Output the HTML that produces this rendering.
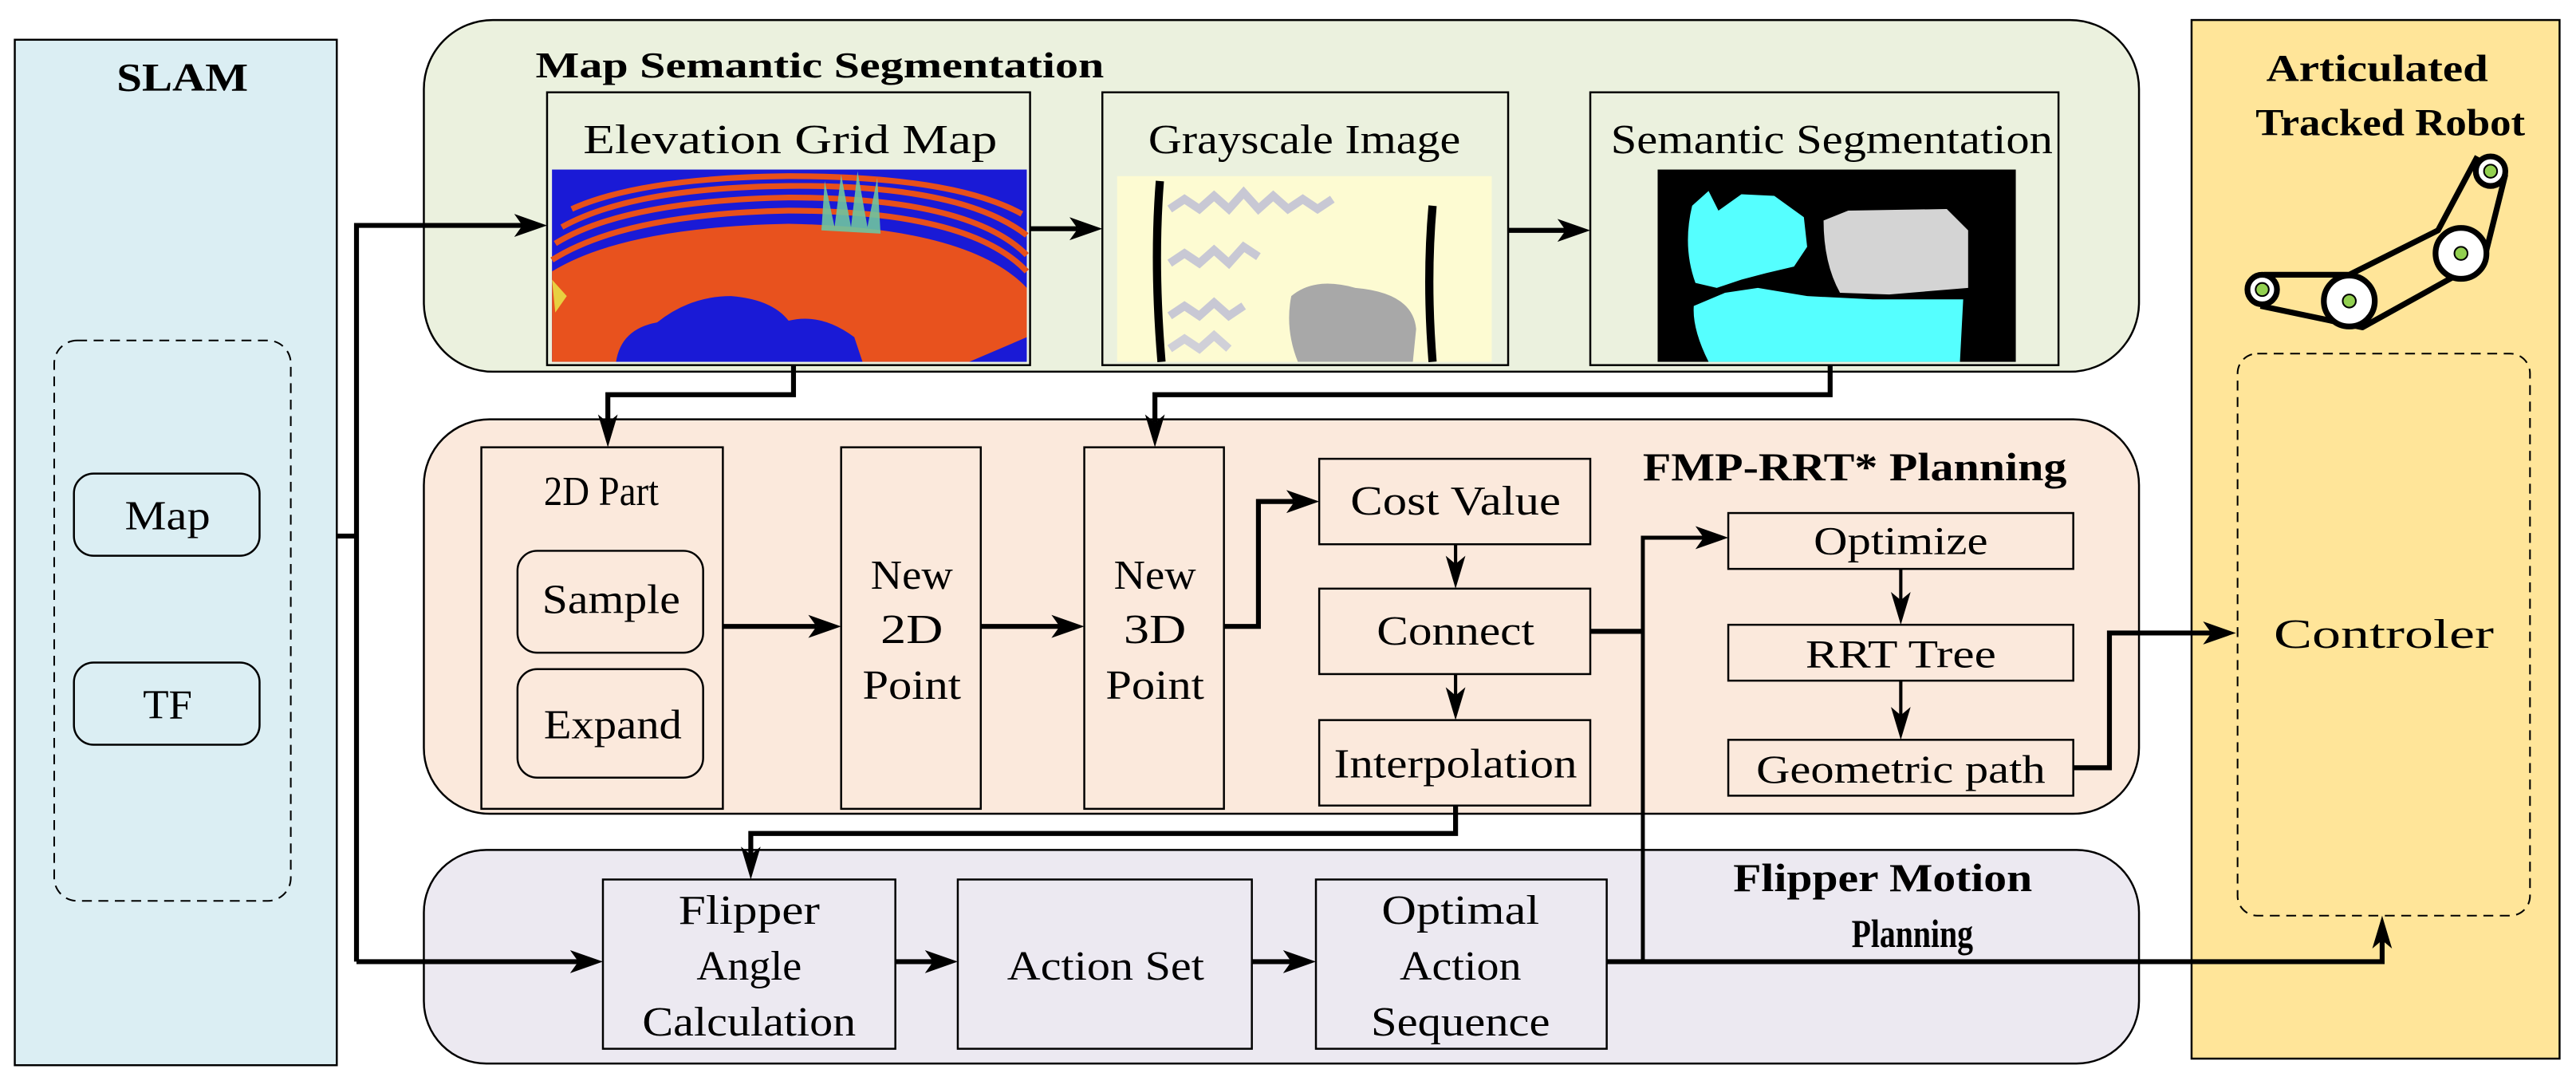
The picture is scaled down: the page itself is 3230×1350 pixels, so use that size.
<!DOCTYPE html>
<html><head><meta charset="utf-8"><style>
html,body{margin:0;padding:0;background:#fff;}
svg{display:block;}
text{font-family:"Liberation Serif","Times New Roman","Nimbus Roman","DejaVu Serif",serif;fill:#000;}
.b{font-weight:bold;}
</style></head><body>
<svg width="3230" height="1350" viewBox="0 0 1568 655" xmlns="http://www.w3.org/2000/svg">

<!-- SLAM panel -->
<rect x="9" y="24" width="196" height="624" fill="#dbeef3" stroke="#000" stroke-width="1.2"/>
<text class="b" x="111" y="55" font-size="24" text-anchor="middle" textLength="80" lengthAdjust="spacingAndGlyphs">SLAM</text>
<rect x="33" y="207" width="144" height="341" rx="14" fill="none" stroke="#000" stroke-width="1" stroke-dasharray="6,4"/>
<rect x="45" y="288" width="113" height="50" rx="12" fill="#dbeef3" stroke="#000" stroke-width="1.2"/>
<text x="102" y="322" font-size="25" text-anchor="middle" textLength="52" lengthAdjust="spacingAndGlyphs">Map</text>
<rect x="45" y="403" width="113" height="50" rx="12" fill="#dbeef3" stroke="#000" stroke-width="1.2"/>
<text x="102" y="437" font-size="25" text-anchor="middle" textLength="30" lengthAdjust="spacingAndGlyphs">TF</text>

<!-- Green panel -->
<rect x="258" y="12" width="1044" height="214" rx="42" fill="#ebf1de" stroke="#000" stroke-width="1.2"/>
<text class="b" x="326" y="47" font-size="22" textLength="346" lengthAdjust="spacingAndGlyphs">Map Semantic Segmentation</text>

<rect x="333" y="56" width="294" height="166" fill="#ebf1de" stroke="#000" stroke-width="1.2"/>
<text x="481" y="93" font-size="25" text-anchor="middle" textLength="252" lengthAdjust="spacingAndGlyphs">Elevation Grid Map</text>
<g>
<rect x="336" y="103" width="289" height="117" fill="#1a1ad6"/>
<path d="M336,220 L336,165 Q380,138 480,136 Q590,138 625,175 L625,205 L590,220 Z" fill="#e8521e"/>
<g fill="none" stroke="#e8501a" stroke-width="3.5">
<path d="M336,158 Q380,130 480,128 Q590,128 625,165"/>
<path d="M338,148 Q380,122 480,120 Q590,120 625,155"/>
<path d="M342,138 Q385,114 480,113 Q585,112 625,143"/>
<path d="M348,127 Q390,108 480,107 Q580,107 622,130"/>
</g>
<path d="M375,220 Q378,200 400,196 Q420,180 445,180 Q470,182 480,195 Q500,190 520,205 L525,220 Z" fill="#1a1ad6"/>
<path d="M500,140 L502,110 L508,138 L512,106 L518,138 L522,104 L528,138 L534,108 L536,142 Z" fill="#6ec4a0" opacity="0.9"/>
<path d="M336,170 L345,180 L338,190 Z" fill="#e8d040"/>
</g>

<rect x="671" y="56" width="247" height="166" fill="#ebf1de" stroke="#000" stroke-width="1.2"/>
<text x="794" y="93" font-size="25" text-anchor="middle" textLength="190" lengthAdjust="spacingAndGlyphs">Grayscale Image</text>
<g>
<rect x="680" y="107" width="228" height="113" fill="#fdfbd2"/>
<path d="M706,110 Q702,160 707,220" fill="none" stroke="#000" stroke-width="5"/>
<path d="M872,125 Q868,170 872,220" fill="none" stroke="#000" stroke-width="5"/>
<path d="M712,127 l9,-6 l9,6 l9,-8 l9,8 l9,-10 l9,10 l9,-8 l9,8 l9,-6 l9,6 l9,-6" fill="none" stroke="#c8c8d4" stroke-width="5"/>
<path d="M712,160 l9,-6 l9,6 l9,-8 l9,8 l9,-10 l9,6" fill="none" stroke="#c8c8d4" stroke-width="5"/>
<path d="M712,192 l9,-6 l9,6 l9,-8 l9,8 l9,-6" fill="none" stroke="#c8c8d4" stroke-width="5"/>
<path d="M712,212 l9,-6 l9,6 l9,-8 l9,8" fill="none" stroke="#d0d0d8" stroke-width="5"/>
<path d="M786,180 Q800,168 825,175 Q860,178 862,200 L860,220 L790,220 Q782,200 786,180 Z" fill="#a8a8a8"/>
</g>

<rect x="968" y="56" width="285" height="166" fill="#ebf1de" stroke="#000" stroke-width="1.2"/>
<text x="1115" y="93" font-size="25" text-anchor="middle" textLength="269" lengthAdjust="spacingAndGlyphs">Semantic Segmentation</text>
<g>
<rect x="1009" y="103" width="218" height="117" fill="#000"/>
<path d="M1030,125 L1040,116 L1046,128 L1060,118 L1080,119 L1098,132 L1100,150 L1092,162 L1075,166 L1060,170 L1045,175 L1032,172 Q1024,150 1030,125 Z" fill="#55ffff"/>
<path d="M1110,134 L1125,128 L1185,127 L1198,140 L1198,175 L1150,179 L1120,178 Q1110,160 1110,134 Z" fill="#d4d4d4"/>
<path d="M1031,186 L1050,178 L1070,175 L1100,180 L1140,182 L1195,182 L1193,220 L1040,220 Q1030,200 1031,186 Z" fill="#55ffff"/>
</g>

<!-- Orange panel -->
<rect x="258" y="255" width="1044" height="240" rx="40" fill="#fbe9dc" stroke="#000" stroke-width="1.2"/>
<text class="b" x="1129" y="292" font-size="24" text-anchor="middle" textLength="258" lengthAdjust="spacingAndGlyphs">FMP-RRT* Planning</text>

<rect x="293" y="272" width="147" height="220" fill="#fbe9dc" stroke="#000" stroke-width="1.2"/>
<text x="366" y="307" font-size="25" text-anchor="middle" textLength="70" lengthAdjust="spacingAndGlyphs">2D Part</text>
<rect x="315" y="335" width="113" height="62" rx="12" fill="#fbe9dc" stroke="#000" stroke-width="1.2"/>
<text x="372" y="373" font-size="25" text-anchor="middle" textLength="84" lengthAdjust="spacingAndGlyphs">Sample</text>
<rect x="315" y="407" width="113" height="66" rx="12" fill="#fbe9dc" stroke="#000" stroke-width="1.2"/>
<text x="373" y="449" font-size="25" text-anchor="middle" textLength="84" lengthAdjust="spacingAndGlyphs">Expand</text>

<rect x="512" y="272" width="85" height="220" fill="#fbe9dc" stroke="#000" stroke-width="1.2"/>
<text x="555" y="358" font-size="25" text-anchor="middle" textLength="50" lengthAdjust="spacingAndGlyphs">New</text>
<text x="555" y="391" font-size="25" text-anchor="middle" textLength="38" lengthAdjust="spacingAndGlyphs">2D</text>
<text x="555" y="425" font-size="25" text-anchor="middle" textLength="60" lengthAdjust="spacingAndGlyphs">Point</text>

<rect x="660" y="272" width="85" height="220" fill="#fbe9dc" stroke="#000" stroke-width="1.2"/>
<text x="703" y="358" font-size="25" text-anchor="middle" textLength="50" lengthAdjust="spacingAndGlyphs">New</text>
<text x="703" y="391" font-size="25" text-anchor="middle" textLength="38" lengthAdjust="spacingAndGlyphs">3D</text>
<text x="703" y="425" font-size="25" text-anchor="middle" textLength="60" lengthAdjust="spacingAndGlyphs">Point</text>

<rect x="803" y="279" width="165" height="52" fill="#fbe9dc" stroke="#000" stroke-width="1.2"/>
<text x="886" y="313" font-size="25" text-anchor="middle" textLength="128" lengthAdjust="spacingAndGlyphs">Cost Value</text>
<rect x="803" y="358" width="165" height="52" fill="#fbe9dc" stroke="#000" stroke-width="1.2"/>
<text x="886" y="392" font-size="25" text-anchor="middle" textLength="96" lengthAdjust="spacingAndGlyphs">Connect</text>
<rect x="803" y="438" width="165" height="52" fill="#fbe9dc" stroke="#000" stroke-width="1.2"/>
<text x="886" y="473" font-size="25" text-anchor="middle" textLength="148" lengthAdjust="spacingAndGlyphs">Interpolation</text>

<rect x="1052" y="312" width="210" height="34" fill="#fbe9dc" stroke="#000" stroke-width="1.2"/>
<text x="1157" y="337" font-size="24" text-anchor="middle" textLength="106" lengthAdjust="spacingAndGlyphs">Optimize</text>
<rect x="1052" y="380" width="210" height="34" fill="#fbe9dc" stroke="#000" stroke-width="1.2"/>
<text x="1157" y="406" font-size="24" text-anchor="middle" textLength="116" lengthAdjust="spacingAndGlyphs">RRT Tree</text>
<rect x="1052" y="450" width="210" height="34" fill="#fbe9dc" stroke="#000" stroke-width="1.2"/>
<text x="1157" y="476" font-size="24" text-anchor="middle" textLength="176" lengthAdjust="spacingAndGlyphs">Geometric path</text>

<!-- Purple panel -->
<rect x="258" y="517" width="1044" height="130" rx="38" fill="#ece9f1" stroke="#000" stroke-width="1.2"/>
<text class="b" x="1146" y="542" font-size="24" text-anchor="middle" textLength="182" lengthAdjust="spacingAndGlyphs">Flipper Motion</text>
<text class="b" x="1164" y="576" font-size="24" text-anchor="middle" textLength="74" lengthAdjust="spacingAndGlyphs">Planning</text>

<rect x="367" y="535" width="178" height="103" fill="#ece9f1" stroke="#000" stroke-width="1.2"/>
<text x="456" y="562" font-size="25" text-anchor="middle" textLength="86" lengthAdjust="spacingAndGlyphs">Flipper</text>
<text x="456" y="596" font-size="25" text-anchor="middle" textLength="64" lengthAdjust="spacingAndGlyphs">Angle</text>
<text x="456" y="630" font-size="25" text-anchor="middle" textLength="130" lengthAdjust="spacingAndGlyphs">Calculation</text>
<rect x="583" y="535" width="179" height="103" fill="#ece9f1" stroke="#000" stroke-width="1.2"/>
<text x="673" y="596" font-size="25" text-anchor="middle" textLength="120" lengthAdjust="spacingAndGlyphs">Action Set</text>
<rect x="801" y="535" width="177" height="103" fill="#ece9f1" stroke="#000" stroke-width="1.2"/>
<text x="889" y="562" font-size="25" text-anchor="middle" textLength="96" lengthAdjust="spacingAndGlyphs">Optimal</text>
<text x="889" y="596" font-size="25" text-anchor="middle" textLength="74" lengthAdjust="spacingAndGlyphs">Action</text>
<text x="889" y="630" font-size="25" text-anchor="middle" textLength="109" lengthAdjust="spacingAndGlyphs">Sequence</text>

<!-- Yellow panel -->
<rect x="1334" y="12" width="224" height="632" fill="#ffe599" stroke="#000" stroke-width="1.2"/>
<text class="b" x="1447" y="49" font-size="23" text-anchor="middle" textLength="135" lengthAdjust="spacingAndGlyphs">Articulated</text>
<text class="b" x="1455" y="82" font-size="23" text-anchor="middle" textLength="164" lengthAdjust="spacingAndGlyphs">Tracked Robot</text>
<g stroke="#000" stroke-width="3.5" stroke-linejoin="round">
<path d="M1378,167 L1430,167 L1484,140 L1508,95 M1525,106 L1512,158 L1438,199 L1376,186" fill="none"/>
<circle cx="1377" cy="176" r="9" fill="#fff"/>
<circle cx="1430" cy="183" r="15.5" fill="#fff"/>
<circle cx="1498" cy="154" r="15.5" fill="#fff"/>
<circle cx="1516" cy="104" r="9" fill="#fff"/>
</g>
<g fill="#92d050" stroke="#000" stroke-width="1">
<circle cx="1377" cy="176" r="4"/>
<circle cx="1430" cy="183" r="4"/>
<circle cx="1498" cy="154" r="4"/>
<circle cx="1516" cy="104" r="4"/>
</g>
<rect x="1362" y="215" width="178" height="342" rx="12" fill="none" stroke="#000" stroke-width="1" stroke-dasharray="6,4"/>
<text x="1451" y="394" font-size="25" text-anchor="middle" textLength="134" lengthAdjust="spacingAndGlyphs">Controler</text>

<!-- Connectors (on top) -->
<g fill="none" stroke="#000" stroke-width="3" stroke-linejoin="miter">
<polyline points="205,326 217,326"/>
<polyline points="217,585 217,137 318,137"/>
<polyline points="217,585 352,585"/>
<polyline points="627,139 656,139"/>
<polyline points="918,140 953,140"/>
<polyline points="483,222 483,240 370,240 370,257"/>
<polyline points="1114,222 1114,240 703,240 703,257"/>
<polyline points="440,381 497,381"/>
<polyline points="597,381 645,381"/>
<polyline points="745,381 766,381 766,305 788,305"/>
<polyline points="886,331 886,343" stroke-width="2"/>
<polyline points="886,410 886,423" stroke-width="2"/>
<polyline points="968,384 1000,384"/>
<polyline points="1000,585 1000,327 1037,327" stroke-width="2.4"/>
<polyline points="1157,346 1157,365" stroke-width="2"/>
<polyline points="1157,414 1157,435" stroke-width="2"/>
<polyline points="1262,467 1284,467 1284,385 1346,385"/>
<polyline points="886,490 886,507 457,507 457,520"/>
<polyline points="545,585 568,585"/>
<polyline points="762,585 786,585"/>
<polyline points="978,585 1450,585 1450,572"/>
</g>
<g fill="#000">
<!-- right -->
<path d="M333,137 l-20,-7 l5,7 l-5,7 z"/>
<path d="M671,139 l-20,-7 l5,7 l-5,7 z"/>
<path d="M968,140 l-20,-7 l5,7 l-5,7 z"/>
<path d="M512,381 l-20,-7 l5,7 l-5,7 z"/>
<path d="M660,381 l-20,-7 l5,7 l-5,7 z"/>
<path d="M803,305 l-20,-7 l5,7 l-5,7 z"/>
<path d="M1052,327 l-20,-7 l5,7 l-5,7 z"/>
<path d="M1361,385 l-20,-7 l5,7 l-5,7 z"/>
<path d="M367,585 l-20,-7 l5,7 l-5,7 z"/>
<path d="M583,585 l-20,-7 l5,7 l-5,7 z"/>
<path d="M801,585 l-20,-7 l5,7 l-5,7 z"/>
<!-- down -->
<path d="M370,272 l-6,-20 l6,5 l6,-5 z"/>
<path d="M703,272 l-6,-20 l6,5 l6,-5 z"/>
<path d="M886,358 l-6,-20 l6,5 l6,-5 z"/>
<path d="M886,438 l-6,-20 l6,5 l6,-5 z"/>
<path d="M1157,380 l-6,-20 l6,5 l6,-5 z"/>
<path d="M1157,450 l-6,-20 l6,5 l6,-5 z"/>
<path d="M457,535 l-6,-20 l6,5 l6,-5 z"/>
<!-- up -->
<path d="M1450,557 l-6,20 l6,-5 l6,5 z"/>
</g>
</svg>
</body></html>
